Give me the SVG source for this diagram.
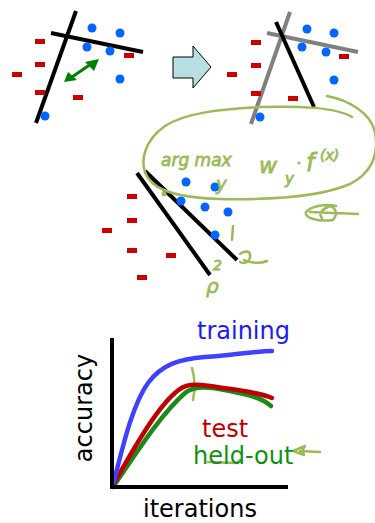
<svg xmlns="http://www.w3.org/2000/svg" width="375" height="523" viewBox="0 0 375 523">
<defs>
<style>
.sep{stroke:#000;stroke-width:4;fill:none}
.old{stroke:#808080;stroke-width:4;fill:none}
.neg{fill:#cc0000}
.pos{fill:#0066ff}
.ink{stroke:#9bbb59;stroke-width:2.5;fill:none;stroke-linecap:round;stroke-linejoin:round}
.hand{fill:#9bbb59;stroke:#9bbb59;stroke-width:0.8;font-family:"DejaVu Sans",sans-serif;font-style:italic}
.lbl{font-family:"DejaVu Sans",Verdana,sans-serif;font-size:24px}
.curve{fill:none;stroke-width:4.5;stroke-linecap:round}
.dbl{fill:#008000}
</style>
</defs>

<g id="panel-left">
<line class="sep" x1="76" y1="11" x2="36" y2="123"/>
<line class="sep" x1="51" y1="33" x2="143" y2="52"/>
<rect class="neg" x="35" y="39" width="10" height="5"/>
<rect class="neg" x="35" y="62" width="10" height="5"/>
<rect class="neg" x="12" y="72" width="10" height="5"/>
<rect class="neg" x="35" y="90" width="10" height="5"/>
<rect class="neg" x="73" y="95" width="10" height="5"/>
<rect class="neg" x="124" y="53" width="10" height="5"/>
<circle class="pos" cx="92" cy="28" r="4.5"/>
<circle class="pos" cx="120" cy="33" r="4.5"/>
<circle class="pos" cx="87" cy="47" r="4.5"/>
<circle class="pos" cx="110" cy="51" r="4.5"/>
<circle class="pos" cx="120" cy="79" r="4.5"/>
<circle class="pos" cx="45" cy="116" r="4.5"/>
<g id="margin-arrow">
<line x1="72" y1="77" x2="91" y2="64" stroke="#008000" stroke-width="3"/>
<polygon class="dbl" points="99,59 85,62 94,71"/>
<polygon class="dbl" points="64,82 68,72 77,80"/>
</g>
</g>

<g id="big-arrow">
<path d="M173,57 H193 V46 L211,67 L193,88 V78 H173 Z" fill="#b9dfe3" stroke="#000" stroke-width="1"/>
</g>

<g id="panel-right">
<line class="old" x1="290" y1="12" x2="251" y2="124"/>
<line class="old" x1="267" y1="33" x2="358" y2="52"/>
<line class="sep" x1="276" y1="22" x2="314" y2="107"/>
<rect class="neg" x="251" y="40" width="10" height="5"/>
<rect class="neg" x="251" y="63" width="10" height="5"/>
<rect class="neg" x="227" y="72" width="10" height="5"/>
<rect class="neg" x="251" y="91" width="10" height="5"/>
<rect class="neg" x="288" y="96" width="10" height="5"/>
<rect class="neg" x="339" y="54" width="10" height="5"/>
<circle class="pos" cx="307" cy="29" r="4.5"/>
<circle class="pos" cx="334" cy="33" r="4.5"/>
<circle class="pos" cx="302" cy="47" r="4.5"/>
<circle class="pos" cx="326" cy="52" r="4.5"/>
<circle class="pos" cx="334" cy="80" r="4.5"/>
<circle class="pos" cx="260" cy="117" r="4.5"/>
</g>

<g id="panel-bottom">
<line class="sep" x1="137" y1="173" x2="210" y2="275"/>
<line class="sep" x1="145" y1="171" x2="237" y2="260"/>
<rect class="neg" x="127" y="194" width="10" height="5"/>
<rect class="neg" x="127" y="218" width="10" height="5"/>
<rect class="neg" x="102" y="228" width="10" height="5"/>
<rect class="neg" x="127" y="248" width="10" height="5"/>
<rect class="neg" x="166" y="253" width="10" height="5"/>
<rect class="neg" x="137" y="275" width="10" height="5"/>
<circle class="pos" cx="186" cy="182" r="4.5"/>
<circle class="pos" cx="215" cy="187" r="4.5"/>
<circle class="pos" cx="181" cy="201" r="4.5"/>
<circle class="pos" cx="205" cy="207" r="4.5"/>
<circle class="pos" cx="228" cy="212" r="4.5"/>
<circle class="pos" cx="215" cy="235" r="4.5"/>
</g>

<g id="annotations">
<path class="ink" d="M327,96 C348,100 370,112 375,132 C380,158 368,175 350,184 C320,197 270,200 220,199 C185,198 158,193 148,178 C138,162 145,140 165,126 C185,113 220,109 260,107 C300,106 335,107 352,117"/>
<text class="hand" x="161" y="166" font-size="17">arg max</text>
<text class="hand" x="216" y="190" font-size="18">y</text>
<text class="hand" x="259" y="173" font-size="22">w</text>
<text class="hand" x="285" y="184" font-size="15">y</text>
<circle cx="299" cy="163" r="1.6" fill="#9bbb59"/>
<text class="hand" x="306" y="171" font-size="24">f</text>
<text class="hand" x="320" y="160" font-size="14">(x)</text>
<path class="ink" d="M358,214 L335,213 M336,206 C325,203 310,207 306,212 C304,218 318,222 333,220 C338,214 336,208 330,206 C322,209 318,214 322,218 M310,212 L333,213"/>
<circle cx="164" cy="194" r="2.5" fill="#9bbb59"/>
<path class="ink" d="M233,226 L232,240"/>
<path class="ink" d="M267,261 C260,264 250,263 244,260 M240,254 C245,250 250,251 250,255 C251,260 246,265 240,262" stroke-width="4"/>
<text class="hand" x="213" y="270" font-size="14">2</text>
<text class="hand" x="206" y="293" font-size="20">ρ</text>
<path class="ink" d="M192,368 C194,375 196,385 193,400" stroke-width="5"/>
<path class="ink" d="M208,462 L236,463 L240,460"/>
<path class="ink" d="M320,452 L300,451 M305,446 L293,451 L304,455 C302,452 303,448 305,446"/>
</g>

<g id="chart">
<path class="curve" d="M113,487 C135,455 160,415 185,393 C195,385 210,387 230,391 C250,395 262,398 271,406" stroke="#1a8a1a"/>
<path class="curve" d="M113,485 C130,455 155,410 175,393 C185,383 195,384 210,386 C235,390 255,391 272,398" stroke="#c00000"/>
<path class="curve" d="M113,485 C122,450 132,405 148,383 C162,364 180,359 205,357 C235,355 255,351 272,351" stroke="#4040ff"/>
<path d="M112,338 V487 H288" fill="none" stroke="#000" stroke-width="4"/>
<text class="lbl" x="197" y="339" fill="#1a1aff">training</text>
<text class="lbl" x="202" y="437" fill="#c00000">test</text>
<text class="lbl" x="193" y="464" fill="#109010">held-out</text>
<text class="lbl" x="143" y="517" fill="#000">iterations</text>
<text class="lbl" transform="translate(92,408) rotate(-90)" text-anchor="middle" fill="#000">accuracy</text>
</g>
</svg>
